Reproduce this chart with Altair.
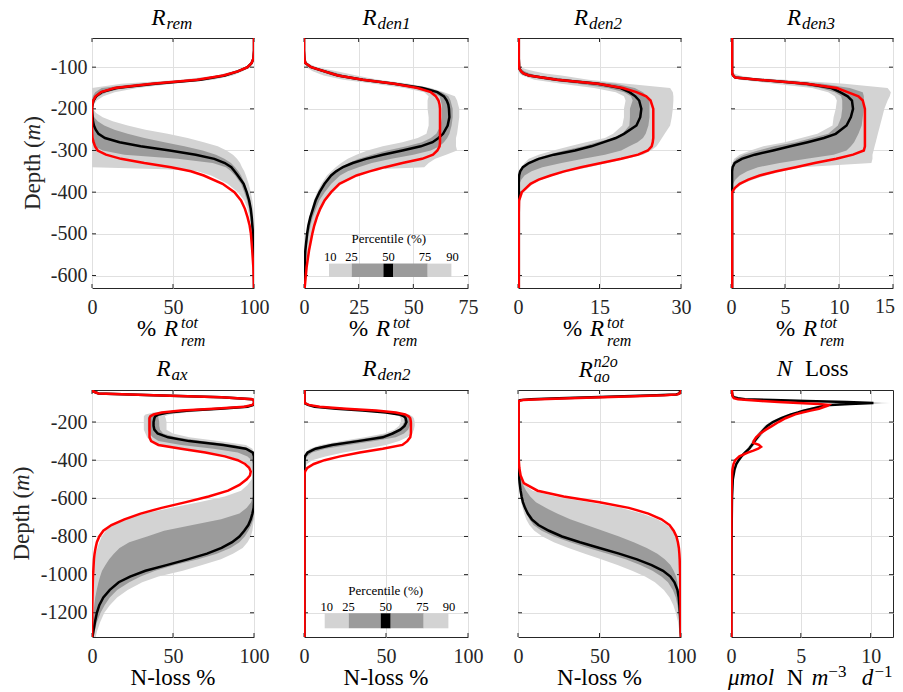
import altair as alt
import pandas as pd

FONT = "Liberation Serif"
TXT = "#262626"
AX = "#262626"
GRID = "#e0e0e0"
LIGHT = "#d3d3d3"
DARK = "#9b9b9b"
RED = "#ff0000"

# ---------------- top row : % of total remineralisation ----------------
rrem_depth = [-30, -60, -80, -90, -100, -110, -120, -130, -140, -150, -160, -170, -180, -190, -200, -210, -220, -230, -240, -250, -260, -270, -280, -290, -300, -310, -320, -330, -340, -345, -350, -360, -380, -400, -420, -440, -460, -480, -500, -540, -580, -630]
rrem_p50 = [100, 100, 99.6, 98.5, 96, 90, 82, 67, 39, 15, 6, 2.5, 1, 0.3, 0, 0.2, 0.4, 0.6, 1.2, 2.3, 4, 8, 17, 30, 48, 64, 75.5, 82, 86, 87, 88, 90, 93.6, 95.5, 97, 98, 98.6, 99, 99.4, 99.8, 100, 100]
rrem_red = [100, 100, 99.6, 98.5, 96, 90, 81, 65, 37, 14, 5.5, 2.2, 0.8, 0.2, 0, 0, 0, 0, 0, 0, 0.1, 0.3, 1, 1.9, 3.5, 8.6, 17.9, 32.3, 48.8, 55, 61, 69, 80.6, 87.9, 92, 94.4, 96, 97.3, 98.1, 98.9, 99.6, 100]
rrem_p10 = [100, 100, 99.4, 98, 95, 87, 77, 55, 18, 0, 0, 0, 0, 0, 0, 0, 0, 0, 0, 0, 0, 0, 0, 0, 0, 0, 0, 0, 0, 45, 65, 73.5, 83.7, 90, 94, 96, 97.3, 98.1, 98.6, 99.2, 99.6, 100]
rrem_p25 = [100, 100, 99.5, 98.2, 96, 89, 80, 62, 28, 6, 2, 0.5, 0, 0, 0, 0, 0, 0, 0, 0, 0, 0, 0, 1.4, 6.6, 20, 52.9, 74.5, 82.7, 84.3, 85.8, 88.3, 92, 94, 95.7, 97, 97.7, 98.4, 98.8, 99.4, 99.8, 100]
rrem_p75 = [100, 100, 99.8, 99, 97, 91, 84, 70, 42, 20, 9, 4, 1.5, 0.5, 0, 0.2, 1.4, 3.5, 7.6, 13.8, 22, 32.3, 44.7, 57, 68.3, 76.5, 81.7, 85.8, 88.3, 89.3, 90.3, 92, 94.4, 96, 97.3, 98.1, 98.8, 99.2, 99.6, 99.8, 100, 100]
rrem_p90 = [100, 100, 100, 99.5, 98, 93, 87, 75, 50, 28, 14, 7, 3, 1, 0.5, 2.5, 6.6, 12.8, 22, 33, 46.7, 59, 69, 77.6, 83, 87, 89.5, 91.4, 92.6, 93.3, 94, 95, 96.7, 98, 99, 99.6, 99.8, 100, 100, 100, 100, 100]

rden1_depth = [-30, -60, -80, -90, -100, -110, -120, -130, -140, -150, -160, -170, -180, -190, -200, -220, -240, -260, -270, -280, -290, -300, -310, -320, -330, -340, -345, -350, -360, -380, -400, -420, -440, -460, -480, -500, -540, -580, -630]
rden1_p50 = [0, 0, 0.2, 0.6, 3.3, 9.4, 15.5, 26.9, 41.3, 54.2, 61, 64, 65.3, 66, 66.3, 66.5, 65.7, 63.6, 61.5, 58.8, 53.4, 45, 36, 28.4, 22.3, 17.8, 16.2, 14.7, 12.4, 9.4, 7.1, 5.3, 4.1, 2.9, 2, 1.4, 0.6, 0.3, 0]
rden1_red = [0, 0, 0.2, 0.6, 3.3, 9.4, 15.5, 26.9, 41.3, 51.9, 58, 60.3, 61.5, 62, 62.2, 62.2, 62.2, 62.2, 62.2, 62.2, 62, 61, 59, 54, 45, 37, 33.5, 30, 24, 16.2, 12.4, 9.4, 7.4, 5.9, 4.7, 3.8, 2.3, 1.2, 0.3]
rden1_p10 = [0, 0, 0.1, 0.3, 1, 4, 9, 18, 32, 46, 55, 57, 56.5, 56.5, 56.5, 57, 57, 56, 52, 45, 36, 29, 24, 20, 17, 14.5, 13.5, 12.5, 10.5, 8, 6, 4.5, 3.5, 2.5, 1.8, 1.2, 0.5, 0.2, 0]
rden1_p25 = [0, 0, 0.15, 0.45, 2, 7, 13, 23, 37, 50, 58, 62, 62.5, 63, 63, 63, 62.5, 60.5, 58, 54, 47, 38, 31, 25, 20.5, 17, 15.5, 14, 12, 9, 7, 5.3, 4, 3, 2.2, 1.6, 0.7, 0.3, 0]
rden1_p75 = [0, 0, 0.3, 0.8, 4.5, 12, 19, 30, 45, 57, 63, 66, 67, 67.5, 68, 68, 67.5, 66.5, 65.5, 64, 62, 58, 50, 40, 31, 25, 22.5, 20, 16.5, 12.5, 9.5, 7, 5.5, 4, 3, 2.2, 1, 0.5, 0.1]
rden1_p90 = [0, 0, 0.5, 1.5, 6, 15, 24, 34, 48, 58, 64, 69, 70, 70.5, 71, 71, 70.5, 70, 69.5, 69.5, 69.5, 70, 65, 60, 57, 55, 33, 29, 23, 16.5, 13, 10, 8, 6.3, 5, 4, 2.5, 1.3, 0.4]

rden2_depth = [-30, -80, -95, -100, -105, -110, -115, -120, -130, -140, -150, -160, -170, -180, -200, -220, -240, -260, -270, -280, -290, -300, -310, -320, -330, -340, -350, -360, -370, -380, -400, -420, -450, -500, -630]
rden2_p50 = [0.15, 0.15, 0.2, 0.2, 0.3, 0.6, 1, 2, 7.2, 14.7, 18.9, 20.5, 21.6, 22.3, 22.7, 22.5, 21.8, 19.5, 18, 15.8, 13.5, 10.5, 6.6, 3.8, 2, 0.9, 0.4, 0.2, 0.15, 0.15, 0.15, 0.15, 0.15, 0.15, 0.15]
rden2_red = [0.15, 0.15, 0.2, 0.2, 0.3, 0.6, 1, 2, 7.2, 14.7, 19.3, 21.8, 23.6, 24.4, 24.9, 24.9, 24.9, 24.9, 24.9, 24.8, 24.6, 23.9, 22.1, 19, 15.3, 11.6, 8.5, 6, 3.8, 2.3, 0.7, 0.2, 0.15, 0.15, 0.15]
rden2_p10 = [0.1, 0.1, 0.1, 0.1, 0.15, 0.2, 0.3, 0.8, 3, 8, 14, 18, 19.5, 19.8, 19.5, 19.5, 19.2, 17.5, 16, 12.5, 9.5, 6.5, 3.8, 2, 1.2, 0.6, 0.3, 0.2, 0.15, 0.1, 0.1, 0.1, 0.1, 0.1, 0.1]
rden2_p25 = [0.15, 0.15, 0.15, 0.15, 0.2, 0.3, 0.6, 1.2, 5, 11, 16.5, 19.5, 20.8, 21.1, 20.6, 20.6, 20.5, 19.2, 17.5, 14.5, 12, 8.5, 5.5, 3.2, 2, 0.8, 0.4, 0.2, 0.15, 0.15, 0.15, 0.15, 0.15, 0.15, 0.15]
rden2_p75 = [0.15, 0.15, 0.2, 0.3, 0.6, 1.2, 2.2, 3.5, 10, 18, 21.5, 23, 23.8, 24.2, 24.2, 24.2, 24, 23.5, 23, 22, 20.5, 19, 16, 12, 8, 4.5, 2.5, 1.2, 0.6, 0.3, 0.2, 0.2, 0.15, 0.15, 0.15]
rden2_p90 = [0.2, 0.2, 0.25, 0.5, 1.5, 3, 5, 8, 13, 20, 28, 28.5, 28.6, 28.6, 28.5, 28.3, 28, 27, 26.5, 26, 25.5, 24.5, 23, 20, 16.5, 13, 9.5, 6.5, 4.3, 2.8, 1, 0.4, 0.2, 0.2, 0.2]

rden3_depth = [-30, -80, -100, -110, -115, -120, -125, -130, -140, -150, -160, -170, -180, -200, -220, -240, -260, -270, -280, -290, -300, -310, -320, -330, -340, -350, -360, -370, -380, -390, -400, -420, -450, -500, -630]
rden3_p50 = [0.1, 0.1, 0.1, 0.1, 0.1, 0.2, 0.4, 2.5, 7, 9.3, 10.1, 10.8, 11.2, 11.3, 11.1, 10.7, 9.7, 8.6, 7.1, 5.5, 3.9, 2.2, 1, 0.35, 0.15, 0.1, 0.1, 0.1, 0.1, 0.1, 0.1, 0.1, 0.1, 0.1, 0.1]
rden3_red = [0.1, 0.1, 0.1, 0.1, 0.1, 0.2, 0.4, 2.5, 7, 9.8, 10.8, 11.8, 12.2, 12.4, 12.4, 12.4, 12.4, 12.4, 12.4, 12.4, 12.3, 11.3, 9.75, 7.75, 6, 4.2, 2.65, 1.6, 0.8, 0.35, 0.1, 0.1, 0.1, 0.1, 0.1]
rden3_p10 = [0.05, 0.05, 0.05, 0.05, 0.05, 0.1, 0.2, 0.8, 4, 7.5, 9, 9.6, 9.8, 9.7, 9.5, 9.4, 8, 6.5, 5, 3, 1.8, 0.8, 0.3, 0.1, 0.1, 0.1, 0.1, 0.1, 0.1, 0.1, 0.05, 0.05, 0.05, 0.05, 0.05]
rden3_p25 = [0.1, 0.1, 0.1, 0.1, 0.1, 0.15, 0.3, 1.5, 5.5, 8.3, 9.6, 10.2, 10.3, 10.3, 10.2, 9.9, 9, 7.5, 6, 4, 2.5, 1.2, 0.5, 0.2, 0.1, 0.1, 0.1, 0.1, 0.1, 0.1, 0.1, 0.1, 0.1, 0.1, 0.1]
rden3_p75 = [0.1, 0.1, 0.1, 0.12, 0.15, 0.3, 0.7, 3.5, 8.5, 11, 12.2, 12.3, 12.3, 12.3, 12.2, 12.1, 11.8, 11.6, 11.4, 11.1, 10.7, 9.5, 7, 4.5, 2.5, 1.5, 0.8, 0.4, 0.2, 0.15, 0.1, 0.1, 0.1, 0.1, 0.1]
rden3_p90 = [0.15, 0.15, 0.15, 0.2, 0.3, 0.8, 1.8, 5, 10.5, 14.5, 14.8, 14.7, 14.5, 14.2, 14, 13.8, 13.6, 13.5, 13.4, 13.3, 13.2, 13.1, 13.1, 13, 6.5, 4.8, 3.2, 2, 1.1, 0.5, 0.2, 0.15, 0.15, 0.15, 0.15]

# ---------------- bottom row : % of N-loss, and N loss rate ----------------
rax_depth = [-32, -40, -50, -60, -70, -80, -90, -100, -110, -120, -130, -140, -150, -160, -170, -180, -200, -220, -240, -260, -280, -300, -320, -340, -360, -380, -400, -420, -440, -460, -480, -500, -530, -560, -590, -620, -650, -680, -710, -740, -770, -800, -830, -860, -890, -920, -950, -980, -1010, -1040, -1080, -1120, -1160, -1200, -1250, -1300, -1327]
rax_p50 = [0.5, 0.8, 4, 38, 80, 99, 100, 100, 99.5, 96, 79, 60, 47, 41, 39, 38.5, 38, 38, 38.5, 40.5, 47, 60, 81, 95, 99.3, 100, 100, 100, 100, 100, 100, 100, 100, 100, 100, 100, 99.8, 99, 98, 96.5, 94, 91, 86.5, 80, 71, 59, 46, 33, 23.5, 16.5, 11, 7, 4.5, 3, 1.8, 0.8, 0.3]
rax_red = [0.5, 0.8, 4, 38, 80, 99, 100, 100, 99, 94, 75, 55, 43, 38, 36, 35.5, 35.5, 35.5, 35.5, 35.5, 35.5, 36.5, 41, 55, 70, 82, 90, 94.5, 97, 98, 97.5, 95.5, 91, 84, 72, 58, 43, 30, 20, 12, 7, 4.5, 3, 2.2, 1.6, 1.2, 1, 0.8, 0.6, 0.5, 0.4, 0.3, 0.2, 0.15, 0.1, 0.1, 0.1]
rax_p10 = [0.5, 0.8, 4, 38, 80, 99, 100, 100, 99.5, 92, 70, 50, 38, 33, 32, 32, 32, 32, 32, 33, 34, 36, 43, 57, 72, 84, 92, 96, 98, 99, 99, 98.6, 96, 92, 82, 66, 49, 32, 19.8, 12.6, 8.5, 6, 4.5, 3.3, 2.4, 1.9, 1.5, 1.2, 0.8, 0.6, 0.4, 0.3, 0.2, 0.15, 0.1, 0.1, 0.1]
rax_p25 = [0.5, 0.8, 4, 38, 80, 99, 100, 100, 99.5, 95, 75, 55, 42, 36, 35, 34.5, 34.5, 34.5, 34.5, 35.5, 37.5, 41, 55, 75, 90, 96, 98.5, 99.5, 100, 100, 100, 100, 100, 100, 99.3, 98.2, 95.5, 91, 79.7, 62, 44.5, 34, 23, 17, 13.5, 10.6, 8.3, 6.2, 5, 4, 2.9, 2, 1.4, 0.9, 0.4, 0.2, 0.1]
rax_p75 = [0.5, 0.8, 4, 38, 80, 99, 100, 100, 99.5, 98, 84, 66, 52, 44, 41, 41, 41.5, 41.5, 42, 44, 52, 68, 88, 97, 100, 100, 100, 100, 100, 100, 100, 100, 100, 100, 100, 100, 100, 100, 99.5, 98.3, 96.5, 94.3, 91, 85.5, 77, 65.5, 51, 39, 30, 23, 15.5, 11, 7.8, 5.3, 3, 1.6, 0.9]
rax_p90 = [0.5, 0.8, 4, 38, 80, 99, 100, 100, 99.5, 99, 88, 72, 58, 48, 45, 45.5, 46, 46, 46, 50, 60, 78, 95, 99, 100, 100, 100, 100, 100, 100, 100, 100, 100, 100, 100, 100, 100, 100, 100, 99.5, 99, 98, 96, 93, 87, 79.6, 68, 56, 41, 31, 22, 15.5, 11, 7.6, 5, 3, 2.3]

rdn2_depth = [-32, -80, -90, -100, -110, -120, -130, -140, -150, -160, -170, -180, -200, -220, -240, -260, -280, -300, -320, -340, -360, -380, -400, -420, -440, -460, -480, -500, -600, -800, -1000, -1200, -1327]
rdn2_p50 = [0.3, 0.3, 0.3, 0.3, 2.4, 6.5, 19.6, 35.8, 50, 58, 61, 62, 62.5, 61.3, 58.7, 54, 48, 33, 17, 7, 2.2, 0.6, 0.3, 0.3, 0.3, 0.3, 0.3, 0.3, 0.3, 0.3, 0.3, 0.3, 0.3]
rdn2_red = [0.3, 0.3, 0.3, 0.3, 3, 9.5, 25.7, 44, 56, 61.7, 63.8, 64.8, 65.2, 65.2, 65.2, 65.2, 64.8, 63, 60, 48, 34, 22, 12.5, 6, 2, 0.6, 0.3, 0.3, 0.3, 0.3, 0.3, 0.3, 0.3]
rdn2_p10 = [0.2, 0.2, 0.2, 0.3, 1.5, 5, 16, 32, 46, 55, 58, 59, 59, 58, 55, 49, 37, 23, 10, 3.5, 1, 0.3, 0.3, 0.3, 0.2, 0.2, 0.2, 0.2, 0.2, 0.2, 0.2, 0.2, 0.2]
rdn2_p25 = [0.3, 0.3, 0.3, 0.3, 2, 6, 18, 34, 48, 57, 60, 61, 61, 60, 57.5, 52, 42, 27, 13, 5, 1.6, 0.5, 0.3, 0.3, 0.3, 0.3, 0.3, 0.3, 0.3, 0.3, 0.3, 0.3, 0.3]
rdn2_p75 = [0.3, 0.3, 0.3, 0.5, 3, 8.5, 23, 40, 53, 61, 63.5, 64.5, 65, 64.5, 63.5, 61, 56, 43, 27, 13, 5, 1.8, 0.7, 0.4, 0.3, 0.3, 0.3, 0.3, 0.3, 0.3, 0.3, 0.3, 0.3]
rdn2_p90 = [0.4, 0.4, 0.4, 1, 4, 11, 28, 46, 58, 64, 66, 67, 67.5, 67.5, 67, 66, 63, 58, 50, 38, 24, 13, 5, 1.8, 0.6, 0.4, 0.4, 0.4, 0.4, 0.4, 0.4, 0.4, 0.4]

rao_depth = [-32, -40, -50, -55, -60, -65, -70, -75, -80, -85, -90, -100, -200, -300, -380, -400, -440, -480, -520, -560, -590, -620, -650, -680, -710, -740, -770, -800, -830, -860, -890, -920, -950, -980, -1010, -1040, -1080, -1120, -1160, -1200, -1250, -1300, -1327]
rao_p50 = [99, 99.5, 99, 97, 85, 65, 45, 25, 8, 1, 0.4, 0.3, 0.3, 0.3, 0.3, 0.3, 0.4, 0.6, 1, 1.6, 2.2, 3, 4.3, 6, 8.5, 12.5, 19, 27, 38, 50, 62, 73, 82, 89, 93.5, 96, 97.8, 98.6, 99, 99.3, 99.6, 99.8, 100]
rao_red = [100, 100, 99, 98, 90, 72, 52, 32, 14, 3, 0.6, 0.4, 0.4, 0.4, 0.4, 0.5, 0.8, 1.6, 3.5, 12, 28, 50, 68, 80, 88, 93, 95.5, 97.2, 98.1, 98.7, 99, 99.2, 99.3, 99.4, 99.5, 99.5, 99.6, 99.6, 99.7, 99.7, 99.8, 99.8, 99.9]
rao_p10 = [99, 99.5, 99, 97, 85, 65, 45, 25, 8, 1, 0.4, 0.3, 0.3, 0.3, 0.3, 0.3, 0.3, 0.4, 0.6, 1, 1.4, 2, 2.8, 3.8, 5, 7, 10, 15, 22, 31, 41, 51, 61, 70, 78, 84, 89.5, 93, 95.3, 96.8, 98.2, 99, 99.5]
rao_p25 = [99, 99.5, 99, 97, 85, 65, 45, 25, 8, 1, 0.4, 0.3, 0.3, 0.3, 0.3, 0.3, 0.4, 0.6, 0.9, 1.4, 2, 2.7, 3.8, 5.2, 7, 9.5, 14.5, 22, 32, 43, 55, 66, 75, 82.5, 88, 92, 95, 96.8, 97.8, 98.5, 99.2, 99.6, 99.8]
rao_p75 = [99, 99.5, 99, 97, 85, 65, 45, 25, 8, 1, 0.4, 0.3, 0.3, 0.3, 0.3, 0.4, 0.6, 1.2, 2.5, 5, 7.5, 11, 17, 24, 32, 42, 52, 62, 71, 79, 85.5, 90, 93.5, 95.5, 97, 97.8, 98.5, 99, 99.3, 99.5, 99.7, 99.8, 99.9]
rao_p90 = [100, 100, 99, 98, 90, 72, 52, 32, 14, 3, 0.6, 0.4, 0.4, 0.4, 0.4, 0.5, 0.8, 1.6, 2.5, 9, 23, 44, 63, 76, 85.5, 91.5, 95, 97, 98, 98.5, 98.8, 99, 99.1, 99.2, 99.3, 99.4, 99.5, 99.6, 99.7, 99.7, 99.8, 99.9, 100]

nloss_depth = [-32, -60, -70, -75, -80, -85, -90, -95, -100, -105, -110, -115, -120, -130, -140, -150, -160, -180, -200, -220, -240, -260, -280, -300, -310, -320, -330, -340, -350, -360, -380, -400, -420, -450, -500, -600, -800, -1000, -1327]
nloss_p50 = [0.05, 0.1, 0.2, 0.5, 1.0, 3, 5.4, 8.3, 10.2, 8.5, 7.1, 6.7, 6.4, 5.8, 5.2, 4.8, 4.3, 3.6, 3.0, 2.6, 2.35, 2.1, 1.9, 1.68, 1.6, 1.5, 1.4, 1.3, 1.15, 1.0, 0.75, 0.55, 0.38, 0.25, 0.13, 0.07, 0.04, 0.03, 0.02]
nloss_red = [0.05, 0.1, 0.15, 0.2, 0.5, 1.2, 2.2, 3.4, 4.8, 6.3, 7.0, 6.9, 6.7, 6.3, 5.7, 5.1, 4.6, 3.9, 3.4, 2.95, 2.5, 2.1, 1.8, 1.62, 1.6, 2.0, 2.15, 1.95, 1.6, 1.2, 0.6, 0.3, 0.18, 0.1, 0.06, 0.04, 0.03, 0.03, 0.03]
nloss_p10 = [0.03, 0.08, 0.15, 0.35, 0.7, 2.2, 4.5, 7.3, 9.0, 7.6, 6.6, 6.3, 6.0, 5.4, 4.9, 4.5, 4.0, 3.35, 2.8, 2.4, 2.15, 1.9, 1.7, 1.5, 1.42, 1.33, 1.24, 1.14, 1.0, 0.86, 0.63, 0.45, 0.3, 0.2, 0.1, 0.05, 0.03, 0.02, 0.01]
nloss_p25 = [0.04, 0.09, 0.18, 0.42, 0.85, 2.6, 5.0, 7.8, 9.6, 8.0, 6.85, 6.5, 6.2, 5.6, 5.05, 4.65, 4.15, 3.48, 2.9, 2.5, 2.25, 2.0, 1.8, 1.59, 1.51, 1.42, 1.32, 1.22, 1.08, 0.93, 0.69, 0.5, 0.34, 0.22, 0.12, 0.06, 0.035, 0.025, 0.015]
nloss_p75 = [0.06, 0.11, 0.22, 0.6, 1.2, 3.5, 5.9, 8.9, 10.8, 9.1, 7.4, 6.9, 6.6, 6.0, 5.35, 4.95, 4.45, 3.72, 3.1, 2.7, 2.45, 2.2, 2.0, 1.77, 1.69, 1.58, 1.48, 1.38, 1.22, 1.07, 0.81, 0.6, 0.42, 0.28, 0.14, 0.08, 0.045, 0.035, 0.025]
nloss_p90 = [0.07, 0.12, 0.25, 0.7, 1.4, 4.0, 6.4, 9.5, 11.4, 9.8, 7.8, 7.2, 6.85, 6.2, 5.55, 5.1, 4.6, 3.85, 3.2, 2.8, 2.55, 2.3, 2.1, 1.86, 1.78, 1.67, 1.56, 1.46, 1.3, 1.14, 0.87, 0.65, 0.46, 0.3, 0.16, 0.09, 0.05, 0.04, 0.03]

# axis ticks / domains
top_yticks = [-600, -500, -400, -300, -200, -100]
bot_yticks = [-1200, -1000, -800, -600, -400, -200]
top_ydom = [-630, -30]
bot_ydom = [-1327, -32]
legend_labels = ["10", "25", "50", "75", "90"]

TOP_H = 250
BOT_H = 247
WIDTHS = [162, 164, 163, 162]
TL = 4


def txt(s, x, y, size, style="normal", align="left", angle=0, color="#000000"):
    return alt.Chart(pd.DataFrame({"t": [s]})).mark_text(
        align=align, baseline="alphabetic", font=FONT, fontSize=size,
        fontStyle=style, color=color, angle=angle
    ).encode(text="t:N", x=alt.value(x), y=alt.value(y))


def rect(x0, x1, y0, y1, color):
    return alt.Chart(pd.DataFrame({"k": [0]})).mark_rect(color=color).encode(
        x=alt.value(x0), x2=alt.value(x1), y=alt.value(y0), y2=alt.value(y1))


def legend(xs, lab_x, title_x, y_title, y_lab, y0, y1):
    cols = [LIGHT, DARK, "#000000", DARK, LIGHT]
    out = [rect(xs[i], xs[i + 1], y0, y1, cols[i]) for i in range(5)]
    out.append(txt("Percentile (%)", title_x, y_title, 13, align="center"))
    for lx, lab in zip(lab_x, legend_labels):
        out.append(txt(lab, lx, y_lab, 12.5, align="center"))
    return out


def panel(depth, p10, p25, p50, p75, p90, red, W, H, xdom, xticks, ydom, yticks, first, extra,
          hide_last=False):
    df = pd.DataFrame({"depth": depth, "p10": p10, "p25": p25, "p50": p50,
                       "p75": p75, "p90": p90, "red": red})
    xs = alt.Scale(domain=xdom, nice=False, zero=False)
    ys = alt.Scale(domain=ydom, nice=False, zero=False)
    xlab = "datum.label"
    if hide_last:
        xlab = "datum.value == %s ? '' : datum.label" % xticks[-1]
    xaxis = alt.Axis(values=xticks, title=None, grid=True, gridColor=GRID, gridWidth=1,
                     ticks=False, tickSize=0, domain=False, labelFlush=False,
                     labelOverlap=False, labelFont=FONT, labelFontSize=20,
                     labelColor=TXT, labelPadding=9, labelExpr=xlab)
    yaxis = alt.Axis(values=yticks, title=None, grid=True, gridColor=GRID, gridWidth=1,
                     ticks=False, tickSize=0, domain=False, labels=first,
                     labelFont=FONT, labelFontSize=20, labelColor=TXT, labelPadding=5,
                     labelOverlap=False,
                     labelExpr="datum.value < 0 ? '-' + (-datum.value) : '' + datum.value")
    base = alt.Chart(df)
    band1 = base.mark_area(color=LIGHT, clip=True).encode(
        x=alt.X("p10:Q", scale=xs, axis=xaxis), x2="p90:Q",
        y=alt.Y("depth:Q", scale=ys, axis=yaxis))
    band2 = base.mark_area(color=DARK, clip=True).encode(x="p25:Q", x2="p75:Q", y="depth:Q")
    black = base.mark_line(color="#000000", strokeWidth=2.5, clip=True).encode(
        x="p50:Q", y="depth:Q", order=alt.Order("depth:Q", sort="descending"))
    redl = base.mark_line(color=RED, strokeWidth=2.5, clip=True).encode(
        x="red:Q", y="depth:Q", order=alt.Order("depth:Q", sort="descending"))
    yt = alt.Chart(pd.DataFrame({"v": yticks}))
    xt = alt.Chart(pd.DataFrame({"v": xticks}))
    ticks = [
        yt.mark_rule(color=AX, strokeWidth=1).encode(y=alt.Y("v:Q", scale=ys), x=alt.value(0), x2=alt.value(TL)),
        yt.mark_rule(color=AX, strokeWidth=1).encode(y=alt.Y("v:Q", scale=ys), x=alt.value(W - TL), x2=alt.value(W)),
        xt.mark_rule(color=AX, strokeWidth=1).encode(x=alt.X("v:Q", scale=xs), y=alt.value(H - TL), y2=alt.value(H)),
        xt.mark_rule(color=AX, strokeWidth=1).encode(x=alt.X("v:Q", scale=xs), y=alt.value(0), y2=alt.value(TL)),
    ]
    layers = [band1, band2] + ticks + [black, redl] + extra
    if hide_last:
        layers.append(txt(str(xticks[-1]), W + 2, H + 25, 20, align="right", color=TXT))
    return alt.layer(*layers).properties(width=W, height=H)


def rtitle(rx, sub, sup=None, base=-13):
    out = [txt("R", rx, base, 23, "italic")]
    if sup is None:
        out.append(txt(sub, rx + 15, base + 3.5, 17, "italic"))
    else:
        out.append(txt(sup, rx + 15, base - 9.5, 16, "italic"))
        out.append(txt(sub, rx + 15, base + 5.5, 16, "italic"))
    return out


def top_xtitle(H):
    return [txt("%", 45, H + 48, 23), txt("R", 72, H + 48, 23, "italic"),
            txt("tot", 89, H + 39.5, 16, "italic"), txt("rem", 89, H + 57.5, 16, "italic")]


def ytitle(H, x):
    return [txt("Depth (", x, H / 2 + 47, 23, angle=270, color=TXT),
            txt("m", x, H / 2 - 22.6, 23, "italic", angle=270, color=TXT),
            txt(")", x, H / 2 - 39.2, 23, angle=270, color=TXT)]


W1, W2, W3, W4 = WIDTHS

p1 = panel(rrem_depth, rrem_p10, rrem_p25, rrem_p50, rrem_p75, rrem_p90, rrem_red,
           W1, TOP_H, [0, 100], [0, 50, 100], top_ydom, top_yticks, True,
           rtitle(59.4, "rem") + top_xtitle(TOP_H) + ytitle(TOP_H, -52.3))
p2 = panel(rden1_depth, rden1_p10, rden1_p25, rden1_p50, rden1_p75, rden1_p90, rden1_red,
           W2, TOP_H, [0, 75], [0, 25, 50, 75], top_ydom, top_yticks, False,
           rtitle(58.4, "den1") + top_xtitle(TOP_H) +
           legend([25, 47.7, 79.4, 89.4, 123.7, 147.4], [26.2, 47.4, 84.4, 121, 148.4], 84.8, 205.3, 223, 225.6, 239))
p3 = panel(rden2_depth, rden2_p10, rden2_p25, rden2_p50, rden2_p75, rden2_p90, rden2_red,
           W3, TOP_H, [0, 30], [0, 15, 30], top_ydom, top_yticks, False,
           rtitle(56, "den2") + top_xtitle(TOP_H))
p4 = panel(rden3_depth, rden3_p10, rden3_p25, rden3_p50, rden3_p75, rden3_p90, rden3_red,
           W4, TOP_H, [0, 15], [0, 5, 10, 15], top_ydom, top_yticks, False,
           rtitle(56, "den3") + top_xtitle(TOP_H), hide_last=True)

nl = lambda W: [txt("N-loss %", W / 2, BOT_H + 48, 23, align="center")]
p5 = panel(rax_depth, rax_p10, rax_p25, rax_p50, rax_p75, rax_p90, rax_red,
           W1, BOT_H, [0, 100], [0, 50, 100], bot_ydom, bot_yticks, True,
           rtitle(64.4, "ax", base=-14) + nl(W1) + ytitle(BOT_H, -63))
p6 = panel(rdn2_depth, rdn2_p10, rdn2_p25, rdn2_p50, rdn2_p75, rdn2_p90, rdn2_red,
           W2, BOT_H, [0, 100], [0, 50, 100], bot_ydom, bot_yticks, False,
           rtitle(58.4, "den2", base=-14) + nl(W2) +
           legend([20.7, 44.7, 76.7, 86.7, 119.7, 144.4], [22.7, 44.4, 81.7, 118.4, 145], 81.7, 205, 221, 223.3, 238.3))
p7 = panel(rao_depth, rao_p10, rao_p25, rao_p50, rao_p75, rao_p90, rao_red,
           W3, BOT_H, [0, 100], [0, 50, 100], bot_ydom, bot_yticks, False,
           rtitle(60.7, "ao", sup="n2o", base=-13.3) + nl(W3))
units = [txt("\u03bcmol", -3, BOT_H + 48, 23, "italic"), txt("N", 55.7, BOT_H + 48, 23),
         txt("m", 80.7, BOT_H + 48, 23, "italic"), txt("\u22123", 97.3, BOT_H + 40, 17),
         txt("d", 130.7, BOT_H + 48, 23, "italic"), txt("\u22121", 143.5, BOT_H + 40, 17)]
p8 = panel(nloss_depth, nloss_p10, nloss_p25, nloss_p50, nloss_p75, nloss_p90, nloss_red,
           W4, BOT_H, [0, 11.6], [0, 5, 10], bot_ydom, bot_yticks, False,
           [txt("N", 45.7, -14, 23, "italic"), txt("Loss", 74, -14, 23)] + units)

chart = alt.concat(p1, p2, p3, p4, p5, p6, p7, p8, columns=4,
                   spacing={"row": 102, "column": 50}, bounds="flush").properties(
    autosize=alt.AutoSizeParams(type="none"),
    padding={"left": 84, "top": 30, "right": 803, "bottom": 654}, background="white"
).configure_view(stroke=AX, strokeWidth=1)

chart.save("out.html", embed_options={"renderer": "svg", "actions": False})
